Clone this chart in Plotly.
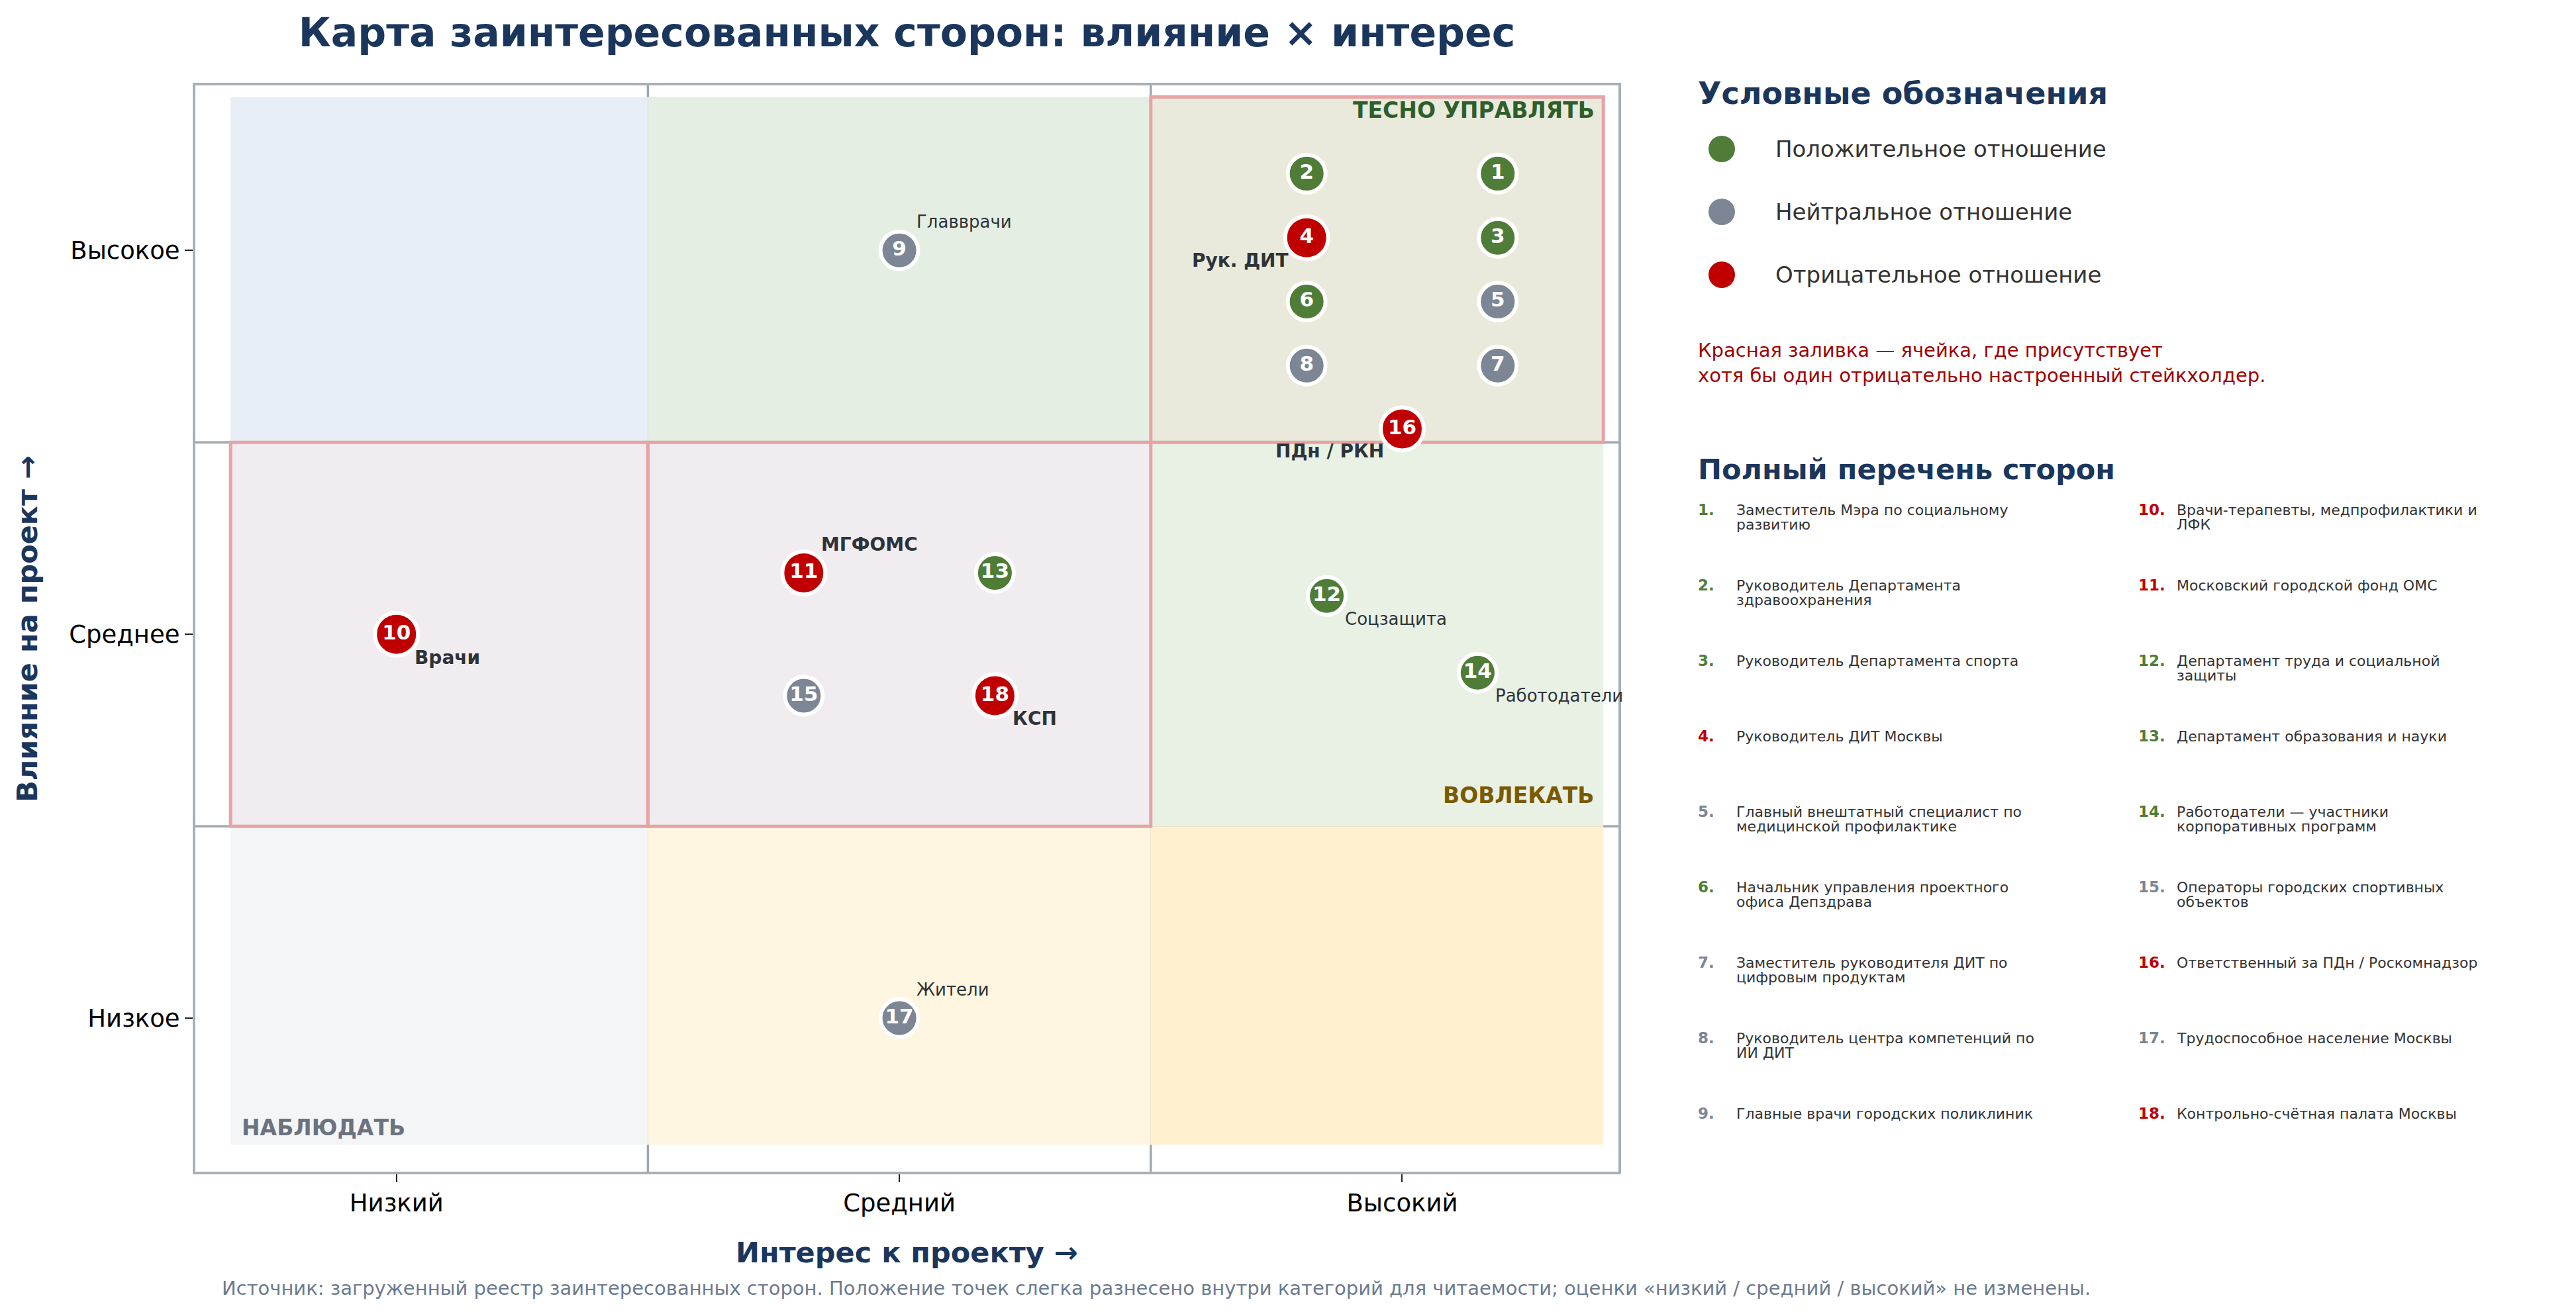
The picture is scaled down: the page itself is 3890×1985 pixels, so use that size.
import textwrap
import plotly.graph_objects as go

# ---- data ----
TITLE = "Карта заинтересованных сторон: влияние × интерес"
X_TICKS = ["Низкий", "Средний", "Высокий"]
Y_TICKS = ["Низкое", "Среднее", "Высокое"]

ids = list(range(1, 19))
names = [
    "Заместитель Мэра по социальному развитию",
    "Руководитель Департамента здравоохранения",
    "Руководитель Департамента спорта",
    "Руководитель ДИТ Москвы",
    "Главный внештатный специалист по медицинской профилактике",
    "Начальник управления проектного офиса Депздрава",
    "Заместитель руководителя ДИТ по цифровым продуктам",
    "Руководитель центра компетенций по ИИ ДИТ",
    "Главные врачи городских поликлиник",
    "Врачи-терапевты, медпрофилактики и ЛФК",
    "Московский городской фонд ОМС",
    "Департамент труда и социальной защиты",
    "Департамент образования и науки",
    "Работодатели — участники корпоративных программ",
    "Операторы городских спортивных объектов",
    "Ответственный за ПДн / Роскомнадзор",
    "Трудоспособное население Москвы",
    "Контрольно-счётная палата Москвы",
]
attitude = ["pos", "pos", "pos", "neg", "neu", "pos", "neu", "neu", "neu",
            "neg", "neg", "pos", "pos", "pos", "neu", "neg", "neu", "neg"]
# 0 = низкий, 1 = средний, 2 = высокий
interest = [2, 2, 2, 2, 2, 2, 2, 2, 1, 0, 1, 2, 1, 2, 1, 2, 1, 1]
influence = [2, 2, 2, 2, 2, 2, 2, 2, 2, 1, 1, 1, 1, 1, 1, 2, 0, 1]
# spread inside a category for readability
dx = [0.19, -0.19, 0.19, -0.19, 0.19, -0.19, 0.19, -0.19, 0.0,
      0.0, -0.19, -0.15, 0.19, 0.15, -0.19, 0.0, 0.0, 0.19]
dy = [0.20, 0.20, 0.033, 0.033, -0.133, -0.133, -0.30, -0.30, 0.0,
      0.0, 0.16, 0.10, 0.16, -0.10, -0.16, -0.465, 0.0, -0.16]
short_labels = ["", "", "", "Рук. ДИТ", "", "", "", "", "Главврачи",
                "Врачи", "МГФОМС", "Соцзащита", "", "Работодатели", "", "ПДн / РКН", "Жители", "КСП"]

LEGEND_TEXT = {"pos": "Положительное отношение",
               "neu": "Нейтральное отношение",
               "neg": "Отрицательное отношение"}
NOTE = "Красная заливка — ячейка, где присутствует<br>хотя бы один отрицательно настроенный стейкхолдер."
SOURCE = ("Источник: загруженный реестр заинтересованных сторон. Положение точек слегка разнесено "
          "внутри категорий для читаемости; оценки «низкий / средний / высокий» не изменены.")

# ---- style ----
FONT = "DejaVu Sans"
NAVY = "#1b365d"
COLORS = {"pos": "#4f7d37", "neu": "#7c8694", "neg": "#c00000"}
CELL_COLORS = {
    (0, 2): "#e8eef6", (1, 2): "#e4eee2", (2, 2): "#e9e9dc",
    (0, 1): "#f1ecf0", (1, 1): "#f1ecf0", (2, 1): "#e9f1e5",
    (0, 0): "#f4f5f7", (1, 0): "#fef6e0", (2, 0): "#fff1d0",
}
EDGES = [-0.33, 0.5, 1.5, 2.40]
RANGE = [-0.40, 2.43]

# page pixels (the page body has an 8px margin)
PAGE_W, PAGE_H, OFF = 3890, 1985, 8
W, H = PAGE_W - 2 * OFF, PAGE_H - 2 * OFF
L, R, T, B = 295, 2444, 129, 1770


def px_x(px):
    return (px - L) / (R - L)


def px_y(py):
    return (B - py) / (B - T)


xs = [i + d for i, d in zip(interest, dx)]
ys = [i + d for i, d in zip(influence, dy)]

fig = go.Figure()

# quadrant fills
neg_cells = {(interest[k], influence[k]) for k in range(len(ids)) if attitude[k] == "neg"}
for (ix, iy), col in CELL_COLORS.items():
    fig.add_shape(type="rect", xref="x", yref="y", x0=EDGES[ix], x1=EDGES[ix + 1],
                  y0=EDGES[iy], y1=EDGES[iy + 1], fillcolor=col, line_width=0, layer="below")
for (ix, iy) in sorted(neg_cells):
    fig.add_shape(type="rect", xref="x", yref="y", x0=EDGES[ix], x1=EDGES[ix + 1],
                  y0=EDGES[iy], y1=EDGES[iy + 1], fillcolor="rgba(0,0,0,0)",
                  line=dict(color="#e8a3a5", width=5), layer="below")
for v in (0.5, 1.5):
    fig.add_shape(type="line", xref="x", yref="paper", x0=v, x1=v, y0=0, y1=1,
                  line=dict(color="#9ea6ae", width=3.5), layer="below")
    fig.add_shape(type="line", xref="paper", yref="y", x0=0, x1=1, y0=v, y1=v,
                  line=dict(color="#9ea6ae", width=3.5), layer="below")

# stakeholders
fig.add_trace(go.Scatter(
    x=xs, y=ys, mode="markers+text",
    text=[str(i) for i in ids], textposition="middle center",
    textfont=dict(family=FONT, size=31, color="white", weight="bold"),
    marker=dict(color=[COLORS[a] for a in attitude], opacity=1,
                size=[65 if a == "neg" else 57 for a in attitude],
                line=dict(color="white", width=6)),
    cliponaxis=False, showlegend=False, hoverinfo="skip",
))

# short labels next to points
PLACE = {"bl": ("right", -25, -34), "br": ("left", 25, -35), "ar": ("left", 24, 43)}
place_of = {4: "bl", 16: "bl", 9: "ar", 17: "ar", 11: "ar"}
for k, lab in enumerate(short_labels):
    if not lab:
        continue
    anchor, xs_, ys_ = PLACE[place_of.get(ids[k], "br")]
    bold = attitude[k] == "neg"
    fig.add_annotation(x=xs[k], y=ys[k], text=lab, showarrow=False, xanchor=anchor, yanchor="middle",
                       xshift=xs_, yshift=ys_,
                       font=dict(family=FONT, size=28 if bold else 26, color="#2d3338",
                                 weight="bold" if bold else "normal"))

# quadrant names
for txt, x, y, anchor, col in [("ТЕСНО УПРАВЛЯТЬ", 2.385, 2.365, "right", "#2e5e2a"),
                               ("ВОВЛЕКАТЬ", 2.385, 0.58, "right", "#7a5a00"),
                               ("НАБЛЮДАТЬ", -0.31, -0.285, "left", "#6b7280")]:
    fig.add_annotation(x=x, y=y, text=txt, showarrow=False, xanchor=anchor, yanchor="middle",
                       font=dict(family=FONT, size=33, color=col, weight="bold"))

# axis titles
fig.add_annotation(xref="paper", yref="paper", x=0.5, y=px_y(1892), text="Интерес к проекту →",
                   showarrow=False, xanchor="center", yanchor="middle",
                   font=dict(family=FONT, size=43, color=NAVY, weight="bold"))
fig.add_annotation(xref="paper", yref="paper", x=px_x(41), y=px_y(950), text="Влияние на проект →",
                   showarrow=False, textangle=-90, xanchor="center", yanchor="middle",
                   font=dict(family=FONT, size=43, color=NAVY, weight="bold"))

# legend block
fig.add_annotation(xref="paper", yref="paper", x=px_x(2562), y=px_y(141), text="Условные обозначения",
                   showarrow=False, xanchor="left", yanchor="middle",
                   font=dict(family=FONT, size=46, color=NAVY, weight="bold"))
for j, key in enumerate(["pos", "neu", "neg"]):
    cy = 225 + 95 * j
    fig.add_shape(type="circle", xref="paper", yref="paper",
                  x0=px_x(2580), x1=px_x(2620), y0=px_y(cy + 20), y1=px_y(cy - 20),
                  fillcolor=COLORS[key], line_width=0)
    fig.add_annotation(xref="paper", yref="paper", x=px_x(2679), y=px_y(cy), text=LEGEND_TEXT[key],
                       showarrow=False, xanchor="left", yanchor="middle",
                       font=dict(family=FONT, size=34, color="#333333"))
fig.add_annotation(xref="paper", yref="paper", x=px_x(2562), y=px_y(548), text=NOTE,
                   showarrow=False, xanchor="left", yanchor="middle", align="left",
                   font=dict(family=FONT, size=29, color="#a00000"))

fig.add_annotation(xref="paper", yref="paper", x=px_x(2562), y=px_y(709), text="Полный перечень сторон",
                   showarrow=False, xanchor="left", yanchor="middle",
                   font=dict(family=FONT, size=43, color=NAVY, weight="bold"))
for k, name in enumerate(names):
    col, row = divmod(k, 9)
    nx = 2562 if col == 0 else 3227
    tx = nx + 58
    ty = 770 + 114 * row
    fig.add_annotation(xref="paper", yref="paper", x=px_x(nx), y=px_y(ty), text=f"{ids[k]}.",
                       showarrow=False, xanchor="left", yanchor="middle",
                       font=dict(family=FONT, size=23, color=COLORS[attitude[k]], weight="bold"))
    for li, line in enumerate(textwrap.wrap(name, 35)):
        fig.add_annotation(xref="paper", yref="paper", x=px_x(tx), y=px_y(ty + 22 * li), text=line,
                           showarrow=False, xanchor="left", yanchor="middle",
                           font=dict(family=FONT, size=22, color="#333333"))

# source line
fig.add_annotation(xref="paper", yref="paper", x=px_x(1746), y=px_y(1946), text=SOURCE,
                   showarrow=False, xanchor="center", yanchor="middle",
                   font=dict(family=FONT, size=29, color="#6b7a90"))

axis_common = dict(range=RANGE, tickvals=[0, 1, 2], showgrid=False, zeroline=False,
                   showline=True, mirror=True, linecolor="#a7b0b9", linewidth=4,
                   ticks="outside", ticklen=12, tickwidth=2, tickcolor="#222222",
                   tickfont=dict(family=FONT, size=37, color="black"), fixedrange=True)
fig.update_xaxes(ticktext=X_TICKS, **axis_common)
fig.update_yaxes(ticktext=Y_TICKS, **axis_common)

fig.update_layout(
    width=W, height=H,
    margin=dict(l=L - OFF, r=(PAGE_W - OFF) - R, t=T - OFF, b=(PAGE_H - OFF) - B),
    paper_bgcolor="white", plot_bgcolor="white",
    font=dict(family=FONT),
    title=dict(text=TITLE, x=0.5, xref="paper", xanchor="center",
               y=1 - (49 - OFF) / H, yref="container", yanchor="middle",
               font=dict(family=FONT, size=60, color=NAVY, weight="bold")),
    showlegend=False,
)

fig.write_html("out.html")
